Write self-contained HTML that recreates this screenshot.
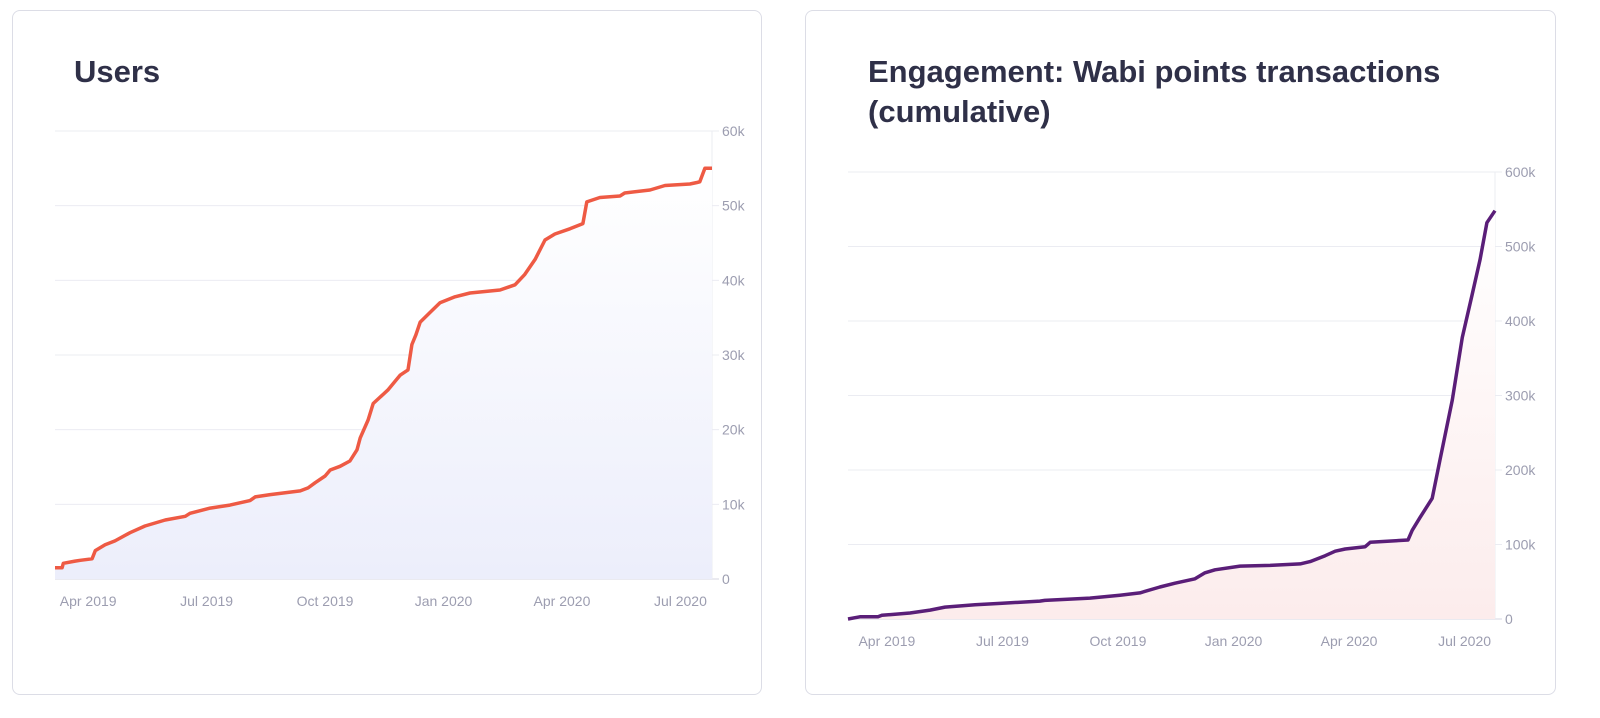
<!DOCTYPE html>
<html><head><meta charset="utf-8">
<style>
body{margin:0;background:#fff;width:1600px;height:718px;overflow:hidden;font-family:"Liberation Sans",sans-serif;}
.card{position:absolute;border:1px solid #dcdde6;border-radius:8px;background:#fff;}
.title{position:absolute;font-weight:bold;font-size:31px;color:#2f3048;line-height:40px;}
svg{position:absolute;left:0;top:0;}
</style></head><body>
<div class="card" style="left:12px;top:10px;width:748px;height:683px;"></div>
<div class="card" style="left:805px;top:10px;width:749px;height:683px;"></div>
<div class="title" style="left:74px;top:52px;">Users</div>
<div class="title" style="left:868px;top:52px;">Engagement: Wabi points transactions<br>(cumulative)</div>
<svg width="1600" height="718" id="svg">
<defs>
<linearGradient id="gL" x1="0" y1="0" x2="0" y2="1"><stop offset="0" stop-color="#ffffff"/><stop offset="1" stop-color="#eceefb"/></linearGradient>
<linearGradient id="gR" x1="0" y1="0" x2="0" y2="1"><stop offset="0" stop-color="#ffffff"/><stop offset="1" stop-color="#fcecec"/></linearGradient>
</defs>
</svg>
<script>
const tickMonths=[0,3,6,9,12,15];
const tickLabels=["Apr 2019","Jul 2019","Oct 2019","Jan 2020","Apr 2020","Jul 2020"];
const usersTicks=[0,10000,20000,30000,40000,50000,60000];
const usersTickLabels=["0","10k","20k","30k","40k","50k","60k"];
const engTicks=[0,100000,200000,300000,400000,500000,600000];
const engTickLabels=["0","100k","200k","300k","400k","500k","600k"];
// time in months since Apr 1 2019
const usersT=[-0.84,-0.66,-0.63,-0.33,-0.2,0.1,0.18,0.43,0.68,1.06,1.44,1.95,2.46,2.58,3.09,3.59,4.1,4.23,4.61,5.37,5.57,5.75,6.0,6.13,6.38,6.63,6.81,6.89,7.09,7.22,7.59,7.9,8.1,8.2,8.3,8.41,8.66,8.91,9.29,9.67,10.43,10.81,11.06,11.32,11.57,11.82,12.2,12.53,12.63,12.96,13.47,13.59,14.23,14.61,15.24,15.42,15.49,15.62,15.8];
const usersV=[1500,1500,2100,2400,2500,2700,3800,4600,5100,6200,7100,7900,8400,8800,9500,9900,10500,11000,11300,11800,12200,12900,13800,14600,15100,15800,17300,18900,21300,23500,25300,27300,28000,31400,32700,34400,35700,37000,37800,38300,38700,39400,40800,42800,45400,46200,46900,47600,50500,51100,51300,51700,52100,52700,52900,53100,53200,55000,55000];
const engT=[-1.01,-0.70,-0.23,-0.13,0.60,1.12,1.51,2.29,2.94,3.97,4.10,5.27,6.05,6.57,7.09,7.48,8.0,8.26,8.52,9.17,9.95,10.73,10.99,11.38,11.64,11.9,12.42,12.55,13.53,13.64,13.84,14.16,14.36,14.68,14.94,15.19,15.4,15.58,15.79];
const engV=[0,3000,3000,5000,8000,12000,16000,19000,21000,24000,25000,28000,32000,35000,43000,48000,54000,62000,66000,71000,72000,74000,77000,85000,91000,94000,97000,103000,106000,119000,136000,162000,213000,294000,378000,434000,482000,532000,548000];
const NS="http://www.w3.org/2000/svg";
const svg=document.getElementById('svg');
function mk(tag,attrs,parent){const e=document.createElementNS(NS,tag);for(const k in attrs)e.setAttribute(k,attrs[k]);(parent||svg).appendChild(e);return e;}
function chart(o){
  const x=t=>o.x0+(t-o.tMin)*(o.x1-o.x0)/(o.tMax-o.tMin);
  const y=v=>o.yBot-v*(o.yBot-o.yTop)/o.vMax;
  o.yt.forEach((v,i)=>{
    const g=mk('line',{x1:o.x0,x2:o.x1+7,y1:y(v),y2:y(v),stroke:i==0?'#d5d6e0':'#ebecf2','stroke-width':1});
    
    const t=mk('text',{x:o.x1+10,y:y(v)+5,'font-size':14,fill:'#9c9db0','font-family':'Liberation Sans, sans-serif'});
    t.textContent=o.yl[i];
    
  });
  const ax=mk('line',{x1:o.x1,x2:o.x1,y1:o.yTop,y2:o.yBot,stroke:'#ebecf2'});
  
  tickMonths.forEach((m,i)=>{
    const t=mk('text',{x:x(m),y:o.yBot+27,'font-size':14,fill:'#9c9db0','text-anchor':'middle','font-family':'Liberation Sans, sans-serif'});
    t.textContent=tickLabels[i];
    
  });
  let d='';o.t.forEach((t,i)=>{d+=(i?'L':'M')+x(t).toFixed(1)+','+y(o.v[i]).toFixed(1);});
  const area=mk('path',{d:d+'L'+x(o.t[o.t.length-1])+','+o.yBot+'L'+x(o.t[0])+','+o.yBot+'Z',fill:o.fill});
  
  const ln=mk('path',{d:d,fill:'none',stroke:o.color,'stroke-width':3.5,'stroke-linejoin':'round'});
  
}
chart({x0:55,x1:712,tMin:-0.84,tMax:15.8,yTop:131,yBot:579,vMax:60000,yt:usersTicks,yl:usersTickLabels,t:usersT,v:usersV,fill:'url(#gL)',color:'#ee5a44',name:'users-line'});
chart({x0:848,x1:1495,tMin:-1.01,tMax:15.79,yTop:172,yBot:619,vMax:600000,yt:engTicks,yl:engTickLabels,t:engT,v:engV,fill:'url(#gR)',color:'#5a1e78',name:'engagement-line'});
</script>
</body></html>
